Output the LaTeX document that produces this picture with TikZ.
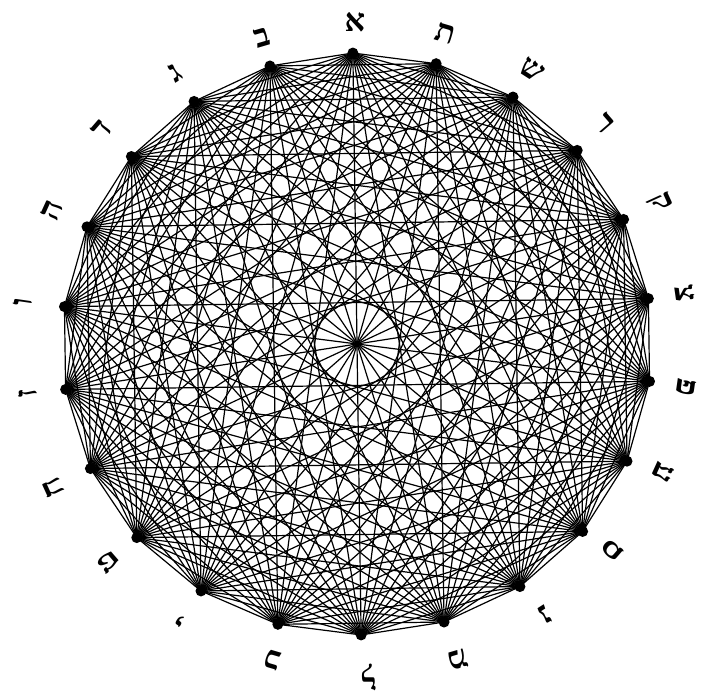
\documentclass[tikz,border=0pt]{standalone}
\usepackage{fontspec}
\newfontfamily\hebfont[Script=Hebrew]{Liberation Serif}
\TeXXeTstate=1
\begin{document}
\begin{tikzpicture}[x=1pt,y=1pt,
  chord/.style={line width=1.2pt, black},
  dotnode/.style={circle, fill=black, inner sep=0pt, minimum size=11pt},
  letter/.style={font=\hebfont\bfseries\fontsize{32}{32}\selectfont, inner sep=0pt}]
\useasboundingbox (0,0) rectangle (704,698);
\foreach \k in {0,...,21} {\coordinate (p\k) at ({357+295*cos(90.8+\k*360/22)},{354+291*sin(90.8+\k*360/22)});}
\foreach \i in {0,...,20} {\pgfmathtruncatemacro\s{\i+1}\foreach \j in {\s,...,21} {\draw[chord] (p\i) -- (p\j);}}
\foreach \k in {0,...,21} {\node[dotnode] (d\k) at (p\k) {};}
\node[letter, rotate=0]      (l0)  at (355,676) {\beginR א\endR};
\node[letter, rotate=16.36]  (l1)  at (262,661) {\beginR ב\endR};
\node[letter, rotate=32.73]  (l2)  at (175,625) {\beginR ג\endR};
\node[letter, rotate=49.09]  (l3)  at (102,568) {\beginR ד\endR};
\node[letter, rotate=65.45]  (l4)  at (52,488)  {\beginR ה\endR};
\node[letter, rotate=81.82]  (l5)  at (23,396)  {\beginR ו\endR};
\node[letter, rotate=98.18]  (l6)  at (28,305)  {\beginR ז\endR};
\node[letter, rotate=114.55] (l7)  at (53,210)  {\beginR ח\endR};
\node[letter, rotate=130.91] (l8)  at (108,136) {\beginR ט\endR};
\node[letter, rotate=147.27] (l9)  at (182,80)  {\beginR י\endR};
\node[letter, rotate=163.64] (l10) at (272,38)  {\beginR כ\endR};
\node[letter, rotate=180]    (l11) at (368,21)  {\beginR ל\endR};
\node[letter, rotate=196.36] (l12) at (458,38)  {\beginR מ\endR};
\node[letter, rotate=212.73] (l13) at (545,83)  {\beginR נ\endR};
\node[letter, rotate=229.09] (l14) at (613,148) {\beginR ס\endR};
\node[letter, rotate=245.45] (l15) at (663,225) {\beginR ע\endR};
\node[letter, rotate=261.82] (l16) at (687,311) {\beginR פ\endR};
\node[letter, rotate=278.18] (l17) at (685,405) {\beginR צ\endR};
\node[letter, rotate=294.55] (l18) at (660,495) {\beginR ק\endR};
\node[letter, rotate=310.91] (l19) at (605,575) {\beginR ר\endR};
\node[letter, rotate=327.27] (l20) at (532,628) {\beginR ש\endR};
\node[letter, rotate=343.64] (l21) at (445,665) {\beginR ת\endR};
\end{tikzpicture}
\end{document}
